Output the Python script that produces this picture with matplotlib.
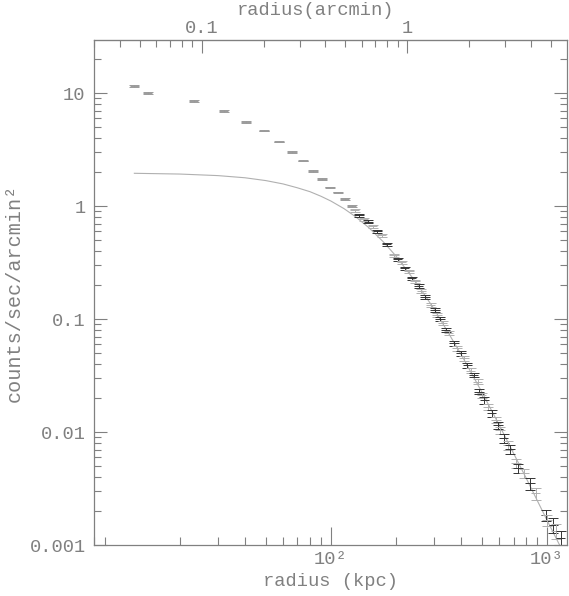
import numpy as np
import matplotlib
matplotlib.use("Agg")
from matplotlib import pyplot as plt
from matplotlib.ticker import LogLocator, NullFormatter

# surface brightness profile
radius_kpc = [12.3, 14.2, 23.2, 31.9, 40.5, 49.0, 57.6, 66.0, 74.4, 82.8,
              91.1, 98.9, 107.4, 116, 124.7, 129, 135, 142, 149, 156,
              164, 172, 181, 196, 204, 213, 220, 230, 236, 245,
              255, 262, 273, 290, 303, 310, 320, 329, 340, 351,
              372, 383, 400, 413, 428, 444, 459, 478, 486, 499,
              513, 535, 555, 581, 595, 606, 632, 662, 674, 719,
              736, 783, 834, 887, 986, 1000, 1070, 1100, 1157]
counts = [11.5, 10.0, 8.55, 6.97, 5.54, 4.64, 3.71, 3.02, 2.52, 2.05,
          1.73, 1.46, 1.32, 1.15, 1.00, 0.922, 0.832, 0.767, 0.729, 0.665,
          0.601, 0.554, 0.458, 0.368, 0.338, 0.319, 0.281, 0.266, 0.229, 0.217,
          0.196, 0.177, 0.158, 0.133, 0.120, 0.108, 0.101, 0.0916, 0.0799, 0.0747,
          0.0610, 0.0550, 0.0497, 0.0449, 0.0392, 0.0349, 0.0320, 0.0279, 0.0227, 0.0212,
          0.0192, 0.0167, 0.0146, 0.0128, 0.0115, 0.0104, 0.0088, 0.00767, 0.00703, 0.00528,
          0.00477, 0.00431, 0.00352, 0.00287, 0.00184, 0.00166, 0.00150, 0.00134, 0.00115]
rel_err = [0.015] * 15 + [0.03] * 15 + [0.04] * 10 + [0.05] * 10 + \
          [0.07] * 6 + [0.09] * 6 + [0.12] * 4 + [0.15] * 3
bin_frac = 0.05

# model curve
model_r = [12.3, 20, 30, 40, 50, 60, 70, 80, 90, 100, 115, 130, 150, 175,
           200, 250, 300, 400, 500, 600, 800, 1000, 1150]
model_s = [1.95, 1.92, 1.86, 1.78, 1.68, 1.57, 1.45, 1.34, 1.22, 1.107, 0.948,
           0.805, 0.642, 0.481, 0.361, 0.206, 0.123, 0.0489, 0.0225, 0.0116,
           0.00393, 0.00166, 0.00098]

grey = '#808080'
plt.rcParams['font.family'] = ['Liberation Mono', 'DejaVu Sans Mono']
plt.rcParams['font.size'] = 13.5

fig = plt.figure(figsize=(5.69, 5.96), dpi=100)
ax = fig.add_axes([94 / 569, 51 / 596, 473 / 569, 505 / 596])

ax.plot(model_r, model_s, color='#b0b0b0', lw=0.8, zorder=1)

r = np.array(radius_kpc)
s = np.array(counts)
e = np.array(rel_err) * s
for i in range(len(r)):
    c = '#333333' if i % 2 == 0 else '#b0b0b0'
    if i < 15:
        c = '#9a9a9a'
    ax.errorbar(r[i], s[i], xerr=[[r[i] * bin_frac], [r[i] * bin_frac]],
                fmt='none', ecolor=c, elinewidth=0.7, capsize=0, zorder=2)
    ax.errorbar(r[i], s[i], yerr=[[e[i]], [e[i]]], fmt='none', ecolor=c,
                elinewidth=0.7, capsize=3.6, capthick=0.7, zorder=2)

ax.set_xscale('log')
ax.set_yscale('log')
ax.set_xlim(8.0, 1238)
ax.set_ylim(0.001, 29.5)

ax.set_xticks([100, 1000], labels=['10²', '10³'])
ax.set_yticks([0.001, 0.01, 0.1, 1, 10], labels=['0.001', '0.01', '0.1', '1', '10'])
ax.xaxis.set_minor_formatter(NullFormatter())
ax.yaxis.set_minor_formatter(NullFormatter())
ax.tick_params(axis='x', which='major', direction='in', length=13, width=0.8,
               color=grey, labelcolor=grey, pad=4, top=False)
ax.tick_params(axis='x', which='minor', direction='in', length=5.8, width=0.8,
               color=grey, top=False)
ax.tick_params(axis='y', which='major', direction='in', length=9.4, width=0.8,
               color=grey, labelcolor=grey, pad=6, right=True)
ax.tick_params(axis='y', which='minor', direction='in', length=5, width=0.8,
               color=grey, right=True)
for sp in ax.spines.values():
    sp.set_color(grey)
    sp.set_linewidth(0.9)


def kpc_to_arcmin(x):
    x = np.asarray(x, dtype=float)
    with np.errstate(divide='ignore', invalid='ignore'):
        return 10 ** ((np.log10(x) - 1.4014) * 1.0506 - 1)


def arcmin_to_kpc(a):
    a = np.asarray(a, dtype=float)
    with np.errstate(divide='ignore', invalid='ignore'):
        return 10 ** ((np.log10(a) + 1) / 1.0506 + 1.4014)


top = ax.secondary_xaxis('top', functions=(kpc_to_arcmin, arcmin_to_kpc))
top.set_xticks([0.1, 1], labels=['0.1', '1'])
top.xaxis.set_minor_locator(LogLocator(base=10, subs=np.arange(2, 10)))
top.xaxis.set_minor_formatter(NullFormatter())
top.tick_params(which='major', direction='in', length=9.4, width=0.8,
                color=grey, labelcolor=grey, pad=2.5)
top.tick_params(which='minor', direction='in', length=5, width=0.8, color=grey)
top.spines['top'].set_color(grey)

ax.set_xlabel('radius (kpc)', color=grey, labelpad=4)
ax.set_ylabel('counts/sec/arcmin²', color=grey, labelpad=4, fontsize=14.5)
fig.text(315 / 569, 1 - 2 / 596, 'radius(arcmin)', color=grey,
         ha='center', va='top')

fig.savefig('out.png', dpi=100)
